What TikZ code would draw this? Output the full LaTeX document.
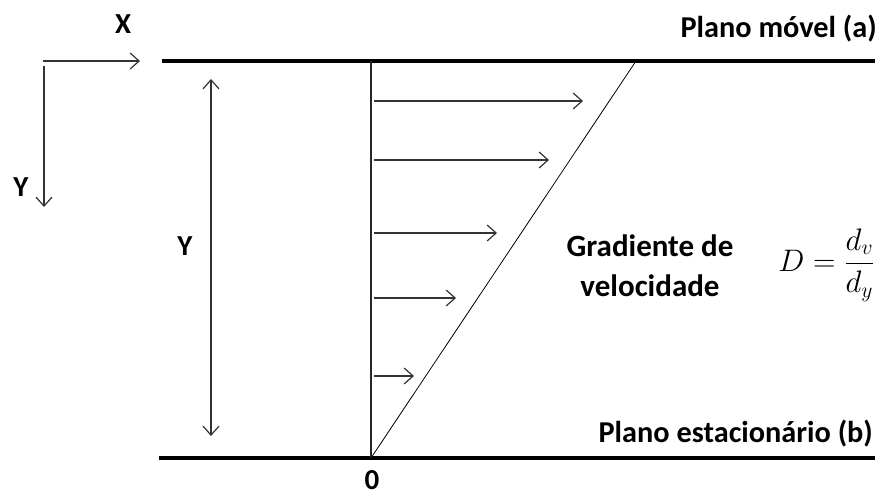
\documentclass[tikz,border=0pt]{standalone}
\usepackage{fontspec}
\setmainfont{Carlito}
\usetikzlibrary{arrows.meta}
\begin{document}
\begin{tikzpicture}[x=1pt,y=-1pt,
  plate/.style={line width=4pt,black},
  thin/.style={line width=1.2pt,black!80},
  barb/.style={thin,-{Straight Barb[length=9pt,width=16pt,line width=1.2pt]}},
  dbarb/.style={thin,{Straight Barb[length=9pt,width=16pt,line width=1.2pt]}-{Straight Barb[length=9pt,width=16pt,line width=1.2pt]}},
  lab/.style={font=\fontsize{29}{34}\selectfont\bfseries,inner sep=0pt}]
\useasboundingbox (0,0) rectangle (882,497);
% plates
\coordinate (tl) at (162,61); \coordinate (tr) at (875,61);
\coordinate (bl) at (159,458); \coordinate (br) at (875,458);
\draw[plate] (tl) -- (tr);
\draw[plate] (bl) -- (br);
% vertical reference and profile
\coordinate (o) at (371,458); \coordinate (ot) at (371,61);
\coordinate (pt) at (636,61);
\draw[line width=1.2pt,black!85] (o) -- (ot);
\draw[line width=0.8pt,black] (o) -- (pt);
% velocity arrows
\foreach \y/\xe/\n in {101/583/1,160/549/2,233/497/3,298/456/4,376/414/5}{
  \coordinate (s\n) at (374,\y); \coordinate (e\n) at (\xe,\y);
  \draw[barb] (s\n) -- (e\n);
}
% Y double arrow
\coordinate (ya) at (211,79); \coordinate (yb) at (211,436);
\draw[dbarb] (ya) -- (yb);
\node[lab] (ylab) at (185,246) {Y};
% axes
\coordinate (ax0) at (43,61); \coordinate (axx) at (140,61);
\coordinate (ay0) at (44,66); \coordinate (ayy) at (44,207);
\draw[barb] (ax0) -- (axx);
\draw[barb] (ay0) -- (ayy);
\node[lab] (xlab) at (123,24) {X};
\node[lab] (yaxlab) at (21,187) {Y};
% labels
\node[lab,font=\fontsize{30.3}{34}\selectfont\bfseries,anchor=base east] (pm) at (877,38) {Plano móvel (a)};
\node[lab,font=\fontsize{30.3}{34}\selectfont\bfseries,anchor=base east] (pe) at (873,442) {Plano estacionário (b)};
\node[lab,anchor=base] (zero) at (372,489) {0};
\node[lab,font=\fontsize{31}{40}\selectfont\bfseries,align=center] (grad) at (650,266) {Gradiente de\\velocidade};
\node[inner sep=0pt,font=\fontsize{24}{28}\selectfont] (eq) at (826.5,265) {\scalebox{1.25}{$\displaystyle D=\frac{d_v}{d_y}$}};
\end{tikzpicture}
\end{document}
